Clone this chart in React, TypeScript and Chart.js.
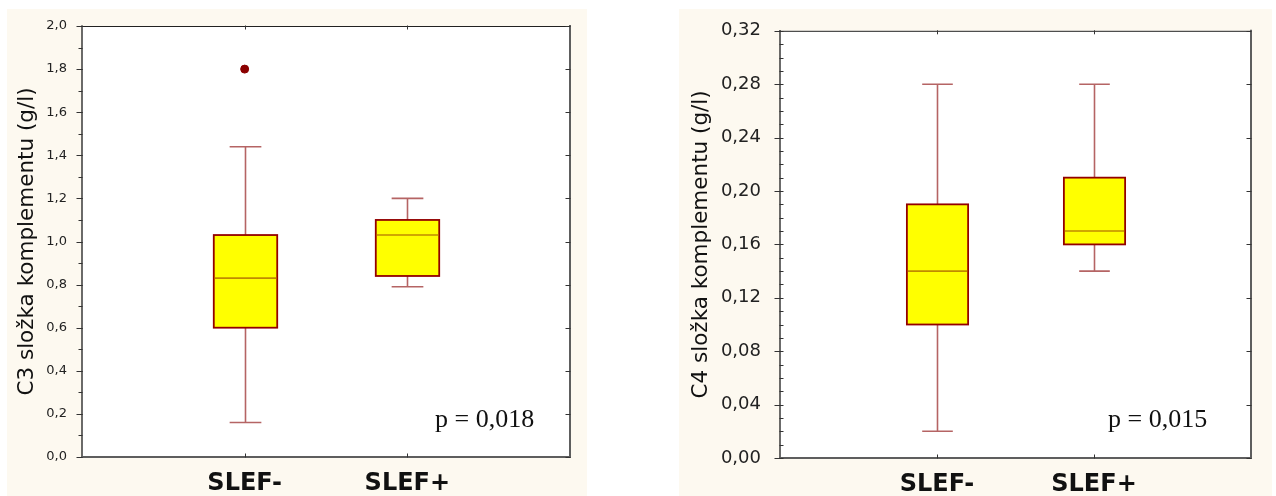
import React, { useEffect, useRef } from 'react';
import { Chart, registerables } from 'chart.js';

Chart.register(...registerables);

// ---------- data ----------
const categories = ['SLEF-', 'SLEF+'];

// C3 complement component (g/l)
const c3Min = [0.16, 0.79];
const c3Q1 = [0.6, 0.84];
const c3Median = [0.83, 1.03];
const c3Q3 = [1.03, 1.1];
const c3Max = [1.44, 1.2];
const c3OutlierCategory = [0];
const c3OutlierValue = [1.8];
const c3Ticks = [0, 0.2, 0.4, 0.6, 0.8, 1.0, 1.2, 1.4, 1.6, 1.8, 2.0];
const c3Title = 'C3 složka komplementu (g/l)';
const c3P = 'p = 0,018';

// C4 complement component (g/l)
const c4Min = [0.02, 0.14];
const c4Q1 = [0.1, 0.16];
const c4Median = [0.14, 0.17];
const c4Q3 = [0.19, 0.21];
const c4Max = [0.28, 0.28];
const c4OutlierCategory: number[] = [];
const c4OutlierValue: number[] = [];
const c4Ticks = [0, 0.04, 0.08, 0.12, 0.16, 0.2, 0.24, 0.28, 0.32];
const c4Title = 'C4 složka komplementu (g/l)';
const c4P = 'p = 0,015';

// ---------- plugin ----------
const boxPlugin = {
  id: 'boxplotDraw',
  beforeDraw(chart: any) {
    const { ctx, chartArea } = chart;
    ctx.save();
    ctx.fillStyle = '#ffffff';
    ctx.fillRect(chartArea.left, chartArea.top, chartArea.right - chartArea.left, chartArea.bottom - chartArea.top);
    ctx.restore();
  },
  beforeDatasetsDraw(chart: any, _args: any, opts: any) {
    const { ctx } = chart;
    const xs = chart.scales.x;
    const ys = chart.scales.y;
    const spacing = xs.getPixelForValue(2) - xs.getPixelForValue(1);
    const bw = spacing * 0.39;
    const cw = bw / 2;
    ctx.save();
    for (let i = 0; i < opts.median.length; i++) {
      const cx = Math.round(xs.getPixelForValue(i + 1)) + 0.5;
      const yMin = ys.getPixelForValue(opts.min[i]);
      const yQ1 = ys.getPixelForValue(opts.q1[i]);
      const yMed = ys.getPixelForValue(opts.median[i]);
      const yQ3 = ys.getPixelForValue(opts.q3[i]);
      const yMax = ys.getPixelForValue(opts.max[i]);
      // whiskers
      ctx.strokeStyle = '#B56464';
      ctx.lineWidth = 1.6;
      ctx.beginPath();
      ctx.moveTo(cx, yMin);
      ctx.lineTo(cx, yQ1);
      ctx.moveTo(cx, yQ3);
      ctx.lineTo(cx, yMax);
      ctx.moveTo(cx - cw / 2, yMin);
      ctx.lineTo(cx + cw / 2, yMin);
      ctx.moveTo(cx - cw / 2, yMax);
      ctx.lineTo(cx + cw / 2, yMax);
      ctx.stroke();
      // box
      ctx.fillStyle = '#FFFF00';
      ctx.fillRect(cx - bw / 2, yQ3, bw, yQ1 - yQ3);
      ctx.strokeStyle = '#930000';
      ctx.lineWidth = 1.8;
      ctx.strokeRect(cx - bw / 2, yQ3, bw, yQ1 - yQ3);
      // median
      ctx.strokeStyle = '#C08A00';
      ctx.lineWidth = 1.6;
      ctx.beginPath();
      ctx.moveTo(cx - bw / 2 + 1, yMed);
      ctx.lineTo(cx + bw / 2 - 1, yMed);
      ctx.stroke();
    }
    ctx.restore();
  },
  afterDraw(chart: any, _args: any, opts: any) {
    const { ctx, chartArea } = chart;
    const { left, right, top, bottom } = chartArea;
    const xs = chart.scales.x;
    const ys = chart.scales.y;
    ctx.save();
    // frame
    ctx.lineCap = 'square';
    ctx.strokeStyle = '#222';
    ctx.lineWidth = 1;
    ctx.beginPath();
    ctx.moveTo(left, top + 0.5);
    ctx.lineTo(right, top + 0.5);
    ctx.stroke();
    ctx.strokeStyle = '#3a3a3a';
    ctx.lineWidth = 1.5;
    ctx.beginPath();
    ctx.moveTo(left, top);
    ctx.lineTo(left, bottom);
    ctx.stroke();
    ctx.strokeStyle = '#5e5e5e';
    ctx.lineWidth = 2;
    ctx.beginPath();
    ctx.moveTo(left, bottom);
    ctx.lineTo(right, bottom);
    ctx.moveTo(right, top);
    ctx.lineTo(right, bottom);
    ctx.stroke();
    // y major ticks
    ctx.strokeStyle = '#333';
    ctx.lineWidth = 1;
    ctx.beginPath();
    for (const v of opts.ticks) {
      const y = Math.round(ys.getPixelForValue(v)) + 0.5;
      ctx.moveTo(left - 5, y);
      ctx.lineTo(left, y);
      ctx.moveTo(right - 4, y);
      ctx.lineTo(right, y);
    }
    // y minor ticks
    const n = Math.round((ys.max - ys.min) / opts.minorStep);
    for (let k = 0; k <= n; k++) {
      const y = Math.round(ys.getPixelForValue(ys.min + k * opts.minorStep)) + 0.5;
      ctx.moveTo(left + opts.minorDir * 3, y);
      ctx.lineTo(left, y);
    }
    // x ticks at categories
    for (let i = 0; i < categories.length; i++) {
      const x = Math.round(xs.getPixelForValue(i + 1)) + 0.5;
      ctx.moveTo(x, top);
      ctx.lineTo(x, top + 3);
      ctx.moveTo(x, bottom);
      ctx.lineTo(x, bottom - 3);
    }
    ctx.stroke();
    // p-value annotation
    ctx.fillStyle = '#111';
    ctx.font = '26px "Liberation Serif", "Times New Roman", serif';
    ctx.textAlign = 'left';
    ctx.textBaseline = 'alphabetic';
    ctx.fillText(opts.pText, right - opts.pDx, bottom - opts.pDy);
    ctx.restore();
  },
};

type PanelProps = {
  left: number;
  top: number;
  width: number;
  height: number;
  min: number[];
  q1: number[];
  median: number[];
  q3: number[];
  max: number[];
  outCat: number[];
  outVal: number[];
  ticks: number[];
  decimals: number;
  minorStep: number;
  minorDir: number;
  title: string;
  pText: string;
  pDx: number;
  pDy: number;
  padTop: number;
  padRight: number;
  yWidth: number;
  xHeight: number;
  tickFont: number;
  tickPad: number;
  titlePad: number;
};

function Panel(p: PanelProps) {
  const ref = useRef<HTMLCanvasElement | null>(null);
  useEffect(() => {
    if (!ref.current) return;
    const yMin = p.ticks[0];
    const yMax = p.ticks[p.ticks.length - 1];
    const chart = new Chart(ref.current, {
      type: 'scatter',
      data: {
        datasets: [
          {
            data: p.outCat.map((c, i) => ({ x: c + 1, y: p.outVal[i] })),
            backgroundColor: '#8B0000',
            borderColor: '#8B0000',
            pointRadius: 4,
            pointHoverRadius: 4,
          },
        ],
      },
      options: {
        animation: false,
        responsive: false,
        events: [],
        layout: { padding: { top: p.padTop, right: p.padRight, bottom: 0, left: 0 } },
        plugins: {
          legend: { display: false },
          tooltip: { enabled: false },
          boxplotDraw: {
            min: p.min,
            q1: p.q1,
            median: p.median,
            q3: p.q3,
            max: p.max,
            ticks: p.ticks,
            minorStep: p.minorStep,
            minorDir: p.minorDir,
            pText: p.pText,
            pDx: p.pDx,
            pDy: p.pDy,
          },
        } as any,
        scales: {
          x: {
            type: 'linear',
            min: 0,
            max: 3,
            grid: { display: false },
            border: { display: false },
            afterBuildTicks: (s: any) => {
              s.ticks = categories.map((_, i) => ({ value: i + 1 }));
            },
            afterFit: (s: any) => {
              s.height = p.xHeight;
            },
            ticks: {
              autoSkip: false,
              maxRotation: 0,
              padding: 4,
              color: '#111',
              font: { family: '"DejaVu Sans", sans-serif', size: 24, weight: 'bold' },
              callback: (_v: any, i: number) => categories[i],
            },
          },
          y: {
            type: 'linear',
            min: yMin,
            max: yMax,
            grid: { display: false },
            border: { display: false },
            afterBuildTicks: (s: any) => {
              s.ticks = p.ticks.map((v) => ({ value: v }));
            },
            afterFit: (s: any) => {
              s.width = p.yWidth;
            },
            ticks: {
              autoSkip: false,
              padding: p.tickPad,
              color: '#222',
              font: { family: '"DejaVu Sans", sans-serif', size: p.tickFont },
              callback: (v: any) => Number(v).toFixed(p.decimals).replace('.', ','),
            },
            title: {
              display: true,
              text: p.title,
              color: '#111',
              padding: { top: p.titlePad, bottom: 0 },
              font: { family: '"DejaVu Sans", sans-serif', size: 21.5 },
            },
          },
        },
      } as any,
      plugins: [boxPlugin],
    });
    return () => chart.destroy();
  }, []);
  return (
    <div
      style={{
        position: 'absolute',
        left: p.left,
        top: p.top,
        width: p.width,
        height: p.height,
        background: '#FDF9F0',
      }}
    >
      <canvas ref={ref} width={p.width} height={p.height} style={{ display: 'block' }} />
    </div>
  );
}

export default function App() {
  return (
    <div
      style={{
        position: 'fixed',
        left: 0,
        top: 0,
        width: 1276,
        height: 496,
        background: '#ffffff',
        overflow: 'hidden',
      }}
    >
      <Panel
        left={7}
        top={9}
        width={580}
        height={487}
        min={c3Min}
        q1={c3Q1}
        median={c3Median}
        q3={c3Q3}
        max={c3Max}
        outCat={c3OutlierCategory}
        outVal={c3OutlierValue}
        ticks={c3Ticks}
        decimals={1}
        minorStep={0.1}
        minorDir={-1}
        title={c3Title}
        pText={c3P}
        pDx={135}
        pDy={30}
        padTop={17}
        padRight={17}
        yWidth={75}
        xHeight={39}
        tickFont={13}
        tickPad={7}
        titlePad={8}
      />
      <Panel
        left={679}
        top={9}
        width={593}
        height={487}
        min={c4Min}
        q1={c4Q1}
        median={c4Median}
        q3={c4Q3}
        max={c4Max}
        outCat={c4OutlierCategory}
        outVal={c4OutlierValue}
        ticks={c4Ticks}
        decimals={2}
        minorStep={0.01}
        minorDir={1}
        title={c4Title}
        pText={c4P}
        pDx={143}
        pDy={31}
        padTop={21}
        padRight={21}
        yWidth={101}
        xHeight={38}
        tickFont={18}
        tickPad={11}
        titlePad={10}
      />
    </div>
  );
}
